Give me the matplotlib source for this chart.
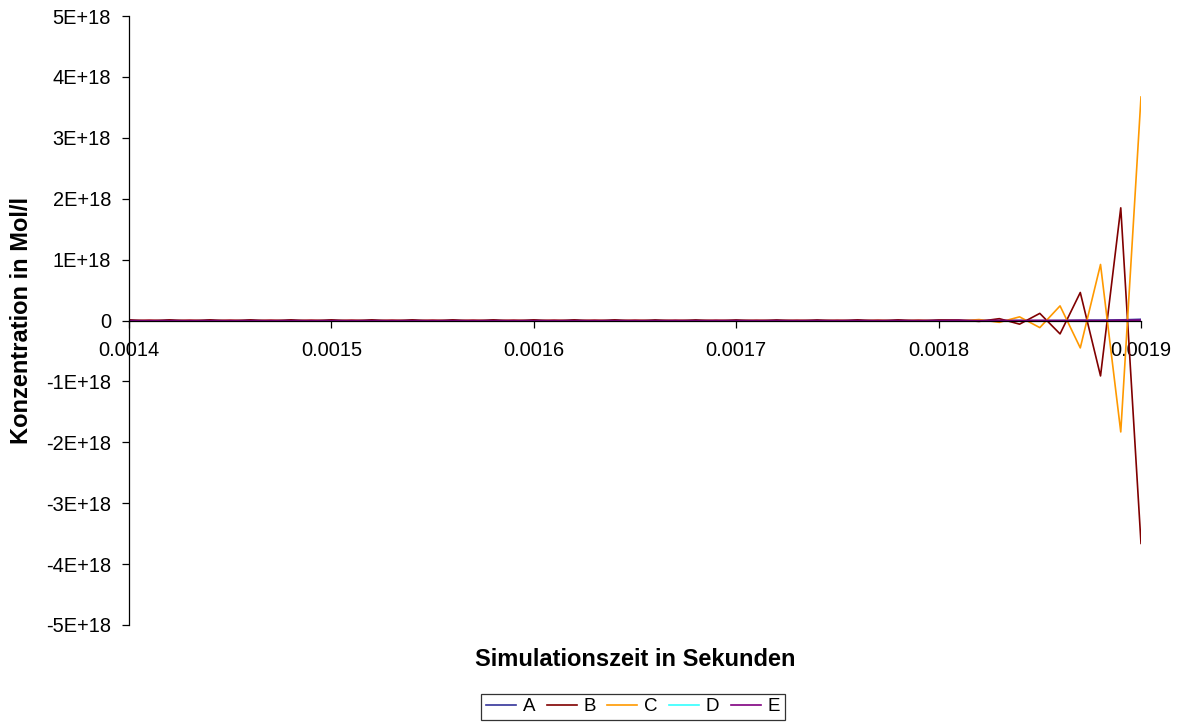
import matplotlib
matplotlib.use('Agg')
import matplotlib.pyplot as plt
from matplotlib.ticker import FixedLocator

plt.rcParams['font.family'] = ['Liberation Sans', 'DejaVu Sans']

# time axis (s), 1e-5 steps from 0.0014 to 0.0019
t = [0.00140, 0.00141, 0.00142, 0.00143, 0.00144, 0.00145, 0.00146, 0.00147, 0.00148, 0.00149,
     0.00150, 0.00151, 0.00152, 0.00153, 0.00154, 0.00155, 0.00156, 0.00157, 0.00158, 0.00159,
     0.00160, 0.00161, 0.00162, 0.00163, 0.00164, 0.00165, 0.00166, 0.00167, 0.00168, 0.00169,
     0.00170, 0.00171, 0.00172, 0.00173, 0.00174, 0.00175, 0.00176, 0.00177, 0.00178, 0.00179,
     0.00180, 0.00181, 0.00182, 0.00183, 0.00184, 0.00185, 0.00186, 0.00187, 0.00188, 0.00189,
     0.00190]

# concentrations in units of 1E+18 mol/l
conc_A = [0.004, -0.004, 0.004, -0.004, 0.004, -0.004, 0.004, -0.004, 0.004, -0.004,
          0.004, -0.004, 0.004, -0.004, 0.004, -0.004, 0.004, -0.004, 0.004, -0.004,
          0.004, -0.004, 0.004, -0.004, 0.004, -0.004, 0.004, -0.004, 0.004, -0.004,
          0.003, -0.003, 0.003, -0.003, 0.003, -0.003, 0.003, -0.003, 0.003, -0.003,
          0.002, -0.002, 0.002, -0.002, 0.002, -0.002, 0.002, 0.004, 0.006, 0.010,
          0.020]
conc_B = [0.010, -0.010, 0.010, -0.010, 0.010, -0.010, 0.010, -0.010, 0.010, -0.010,
          0.010, -0.010, 0.010, -0.010, 0.010, -0.010, 0.010, -0.010, 0.010, -0.010,
          0.010, -0.010, 0.010, -0.010, 0.010, -0.010, 0.008, -0.008, 0.008, -0.008,
          0.008, -0.008, 0.008, -0.008, 0.008, -0.008, 0.010, -0.010, 0.010, -0.010,
          0.008, 0.008, -0.015, 0.030, -0.060, 0.117, -0.220, 0.460, -0.910, 1.850,
          -3.660]
conc_C = [-0.008, 0.008, -0.008, 0.008, -0.008, 0.008, -0.008, 0.008, -0.008, 0.008,
          -0.008, 0.008, -0.008, 0.008, -0.008, 0.008, -0.008, 0.008, -0.008, 0.008,
          -0.008, 0.008, -0.008, 0.008, -0.008, 0.008, -0.006, 0.006, -0.006, 0.006,
          -0.006, 0.006, -0.006, 0.006, -0.006, 0.006, -0.008, 0.008, -0.008, 0.008,
          -0.008, -0.008, 0.015, -0.030, 0.060, -0.117, 0.240, -0.450, 0.920, -1.830,
          3.670]
conc_D = [0.0] * 51
conc_E = [-0.004, 0.004, -0.004, 0.004, -0.004, 0.004, -0.004, 0.004, -0.004, 0.004,
          -0.004, 0.004, -0.004, 0.004, -0.004, 0.004, -0.004, 0.004, -0.004, 0.004,
          -0.004, 0.004, -0.004, 0.004, -0.004, 0.004, -0.004, 0.004, -0.004, 0.004,
          -0.003, 0.003, -0.003, 0.003, -0.003, 0.003, -0.003, 0.003, -0.003, 0.003,
          -0.002, 0.002, -0.002, 0.002, -0.002, 0.002, -0.002, 0.002, -0.002, 0.004,
          0.006]

series = [('A', conc_A, '#333399'), ('B', conc_B, '#800000'), ('C', conc_C, '#FF9900'),
          ('D', conc_D, '#33FFFF'), ('E', conc_E, '#800080')]

x_ticks = [0.0014, 0.0015, 0.0016, 0.0017, 0.0018, 0.0019]
x_ticklabels = ['0.0014', '0.0015', '0.0016', '0.0017', '0.0018', '0.0019']
y_ticks = [-5, -4, -3, -2, -1, 0, 1, 2, 3, 4, 5]
y_ticklabels = ['-5E+18', '-4E+18', '-3E+18', '-2E+18', '-1E+18', '0',
                '1E+18', '2E+18', '3E+18', '4E+18', '5E+18']
SCALE = 1e18

fig = plt.figure(figsize=(11.83, 7.24), dpi=100)
ax = fig.add_axes([129 / 1183, 1 - 625 / 724, 1012 / 1183, 609 / 724])

for name, vals, col in series:
    ax.plot(t, [v * SCALE for v in vals], color=col, lw=1.2, label=name)

ax.set_xlim(0.0014, 0.0019)
ax.set_ylim(-5 * SCALE, 5 * SCALE)
ax.spines['top'].set_visible(False)
ax.spines['right'].set_visible(False)
ax.spines['bottom'].set_position(('data', 0))
for s in ('left', 'bottom'):
    ax.spines[s].set_color('#000000')
    ax.spines[s].set_linewidth(0.9)

ax.xaxis.set_major_locator(FixedLocator(x_ticks))
ax.set_xticklabels(x_ticklabels)
ax.yaxis.set_major_locator(FixedLocator([v * SCALE for v in y_ticks]))
ax.set_yticklabels(y_ticklabels)
ax.tick_params(axis='both', direction='out', length=5, width=0.9, labelsize=14.4)
ax.tick_params(axis='x', pad=10)
ax.tick_params(axis='y', pad=8)

ax.set_xlabel('Simulationszeit in Sekunden', fontsize=17, fontweight='bold')
ax.set_ylabel('Konzentration in Mol/l', fontsize=17, fontweight='bold')
ax.xaxis.set_label_coords(0.5, -(659 - 625) / 609)
ax.yaxis.set_label_coords((22 - 129) / 1012, 0.5)
ax.xaxis.label.set_verticalalignment('center')
ax.yaxis.label.set_verticalalignment('center')

leg = fig.legend(loc='lower center', bbox_to_anchor=(633 / 1183, 4 / 724), ncol=5,
                 fontsize=13.5, frameon=True, fancybox=False, handlelength=1.6,
                 handletextpad=0.37, columnspacing=0.6, borderpad=0.25,
                 borderaxespad=0)
leg.get_frame().set_edgecolor('#000000')
leg.get_frame().set_linewidth(0.9)

fig.savefig('out.png', dpi=100)
